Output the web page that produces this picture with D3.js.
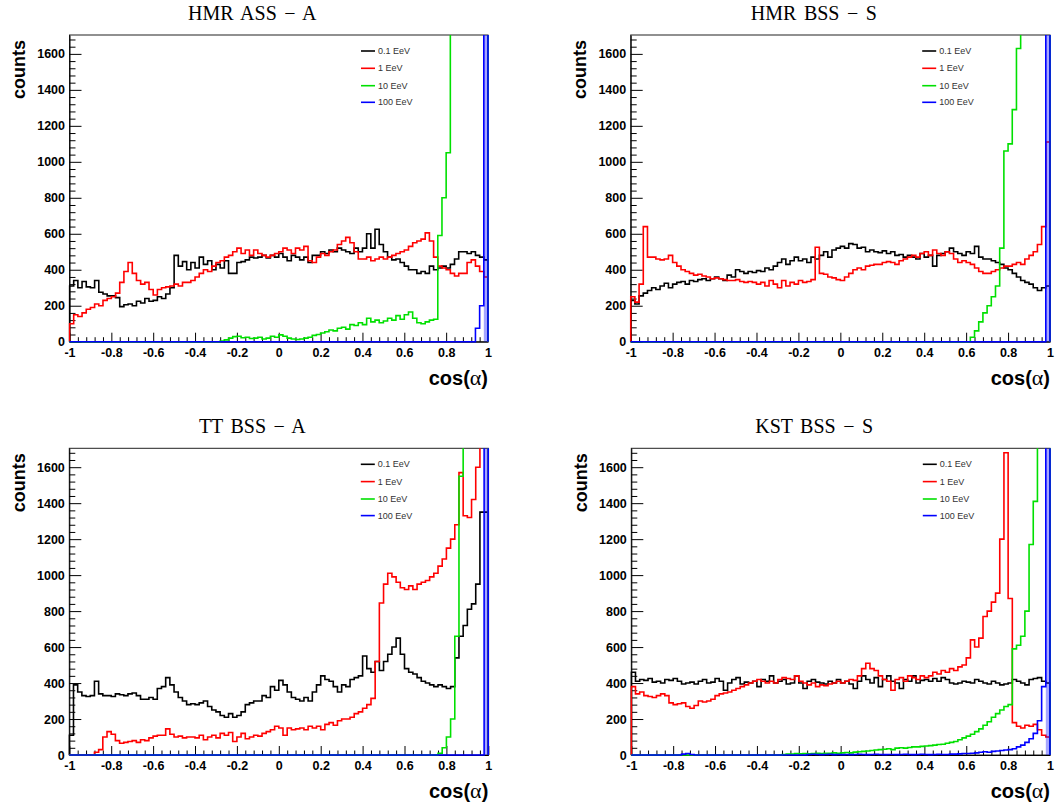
<!DOCTYPE html>
<html>
<head>
<meta charset="utf-8">
<script src="https://cdn.jsdelivr.net/npm/d3@7"></script>
<style>
  html, body { margin: 0; padding: 0; background: #fff; }
  svg { display: block; }
</style>
</head>
<body>
<svg id="chart" width="1058" height="807"></svg>
<script>
// ---------------- DATA ----------------
const panelTitles = ["HMR ASS \u2212 A", "HMR BSS \u2212 S", "TT BSS \u2212 A", "KST BSS \u2212 S"];
const seriesNames = ["0.1 EeV", "1 EeV", "10 EeV", "100 EeV"];
const xTickValues = [-1, -0.8, -0.6, -0.4, -0.2, 0, 0.2, 0.4, 0.6, 0.8, 1];
const xTickLabels = ["-1", "-0.8", "-0.6", "-0.4", "-0.2", "0", "0.2", "0.4", "0.6", "0.8", "1"];
const yTickValues = [0, 200, 400, 600, 800, 1000, 1200, 1400, 1600];
const yTickLabels = ["0", "200", "400", "600", "800", "1000", "1200", "1400", "1600"];
const xAxisTitle = "cos(\u03b1)";
const yAxisTitle = "counts";
const xMin = -1, xMax = 1, nBins = 100;
const yMax = 1705;

// counts per bin (100 bins of width 0.02 from -1 to 1); values above yMax run off the frame
const hmrAss_01 = [
  310,340,300,335,305,300,340,275,265,255,
  255,245,195,205,210,200,225,215,240,225,
  230,250,240,265,300,480,420,445,400,440,
  410,470,430,450,400,430,410,450,380,380,
  440,445,455,470,465,470,480,465,480,470,
  490,470,450,480,470,455,470,440,480,480,
  500,490,510,500,520,510,500,490,520,500,
  520,600,520,625,540,500,470,455,460,440,
  420,400,400,380,390,380,420,400,410,420,
  410,430,460,500,500,490,500,480,470,455];
const hmrAss_1 = [
  100,150,140,160,180,190,210,200,230,240,
  250,270,330,390,440,380,340,320,330,290,
  260,290,300,305,310,320,310,330,330,340,
  360,380,400,390,420,440,450,470,480,500,
  520,490,510,480,510,490,480,470,480,490,
  500,520,510,490,520,510,530,450,440,470,
  490,480,500,510,540,560,580,550,500,460,
  460,470,450,460,470,460,470,480,490,500,
  510,530,550,560,570,605,560,470,420,410,
  400,380,365,380,380,440,455,420,390,360];
const hmrAss_10 = [
  0,0,0,0,0,0,0,0,0,0,
  0,0,0,0,0,0,0,0,0,0,
  0,0,0,0,0,0,0,0,0,0,
  0,0,0,0,0,0,3,10,20,28,
  30,22,25,18,20,25,15,20,30,25,
  38,30,20,15,12,15,20,25,35,40,
  48,55,65,60,75,80,70,95,90,105,
  95,130,110,120,105,115,130,120,145,125,
  150,165,130,105,100,110,120,125,590,800,
  1050,2500,2500,2500,2500,2500,2500,2500,2500,2500];
const hmrAss_100 = [
  0,0,0,0,0,0,0,0,0,0,
  0,0,0,0,0,0,0,0,0,0,
  0,0,0,0,0,0,0,0,0,0,
  0,0,0,0,0,0,0,0,0,0,
  0,0,0,0,0,0,0,0,0,0,
  0,0,0,0,0,0,0,0,0,0,
  0,0,0,0,0,0,0,0,0,0,
  0,0,0,0,0,0,0,0,0,0,
  0,0,0,0,0,0,0,0,0,0,
  0,0,0,0,0,0,0,75,200,2500];

const hmrBss_01 = [
  230,210,255,270,285,300,290,310,325,300,
  320,330,335,320,340,335,345,350,340,350,
  360,350,340,370,360,400,390,380,390,385,
  395,390,410,400,420,440,460,430,450,470,
  450,460,440,470,460,480,500,470,510,520,
  530,520,545,540,520,525,500,510,500,495,
  505,490,500,480,485,470,480,470,460,490,
  470,480,420,480,490,500,520,500,490,480,
  500,490,530,470,460,460,450,440,430,410,
  400,380,360,340,330,320,300,285,300,310];
const hmrBss_1 = [
  250,220,320,640,470,470,460,455,460,480,
  440,420,400,390,380,370,375,365,360,350,
  355,350,345,340,340,345,335,330,335,330,
  320,330,310,340,320,300,340,310,330,320,
  340,330,335,345,525,380,375,360,355,345,
  340,360,380,400,410,400,420,425,430,430,
  440,445,440,430,450,460,470,480,470,490,
  500,480,510,490,480,500,490,460,440,450,
  440,430,410,390,380,380,390,400,410,420,
  420,430,440,430,460,480,500,540,640,1110];
const hmrBss_10 = [
  0,0,0,0,0,0,0,0,0,0,
  0,0,0,0,0,0,0,0,0,0,
  0,0,0,0,0,0,0,0,0,0,
  0,0,0,0,0,0,0,0,0,0,
  0,0,0,0,0,0,0,0,0,0,
  0,0,0,0,0,0,0,0,0,0,
  0,0,0,0,0,0,0,0,0,0,
  0,0,0,0,0,0,0,0,0,0,
  0,25,60,110,160,200,250,310,520,1060,
  1100,1290,1630,2500,2500,2500,2500,2500,2500,2500];
const hmrBss_100 = [
  0,0,0,0,0,0,0,0,0,0,
  0,0,0,0,0,0,0,0,0,0,
  0,0,0,0,0,0,0,0,0,0,
  0,0,0,0,0,0,0,0,0,0,
  0,0,0,0,0,0,0,0,0,0,
  0,0,0,0,0,0,0,0,0,0,
  0,0,0,0,0,0,0,0,0,0,
  0,0,0,0,0,0,0,0,0,0,
  0,0,0,0,0,0,0,0,0,0,
  0,0,0,0,0,0,0,0,0,2500];

const ttBss_01 = [
  110,390,350,330,325,330,410,340,330,330,
  325,340,335,330,340,345,330,310,310,320,
  310,370,380,430,390,350,320,300,280,285,
  280,290,300,270,250,240,220,210,230,210,
  220,240,280,290,300,300,330,320,380,360,
  415,390,350,320,310,300,320,300,350,390,
  440,420,410,380,350,390,380,420,430,440,
  550,480,460,520,470,520,560,600,650,560,
  480,460,450,430,410,400,390,380,390,380,
  370,380,540,660,720,810,840,950,1350,1350];
const ttBss_1 = [
  0,0,0,0,0,0,15,30,100,130,
  115,80,65,70,75,80,70,85,80,95,
  105,110,110,145,115,100,105,95,100,100,
  95,110,85,100,110,95,120,110,125,75,
  100,120,90,100,110,105,120,130,140,160,
  150,110,150,140,145,150,140,160,150,160,
  140,170,180,165,190,200,200,210,230,240,
  260,280,315,520,845,950,1010,990,960,930,
  920,940,920,950,960,970,990,1010,1050,1090,
  1150,1200,1280,1570,1330,1320,1420,1600,2500,2500];
const ttBss_10 = [
  0,0,0,0,0,0,0,0,0,0,
  0,0,0,0,0,0,0,0,0,0,
  0,0,0,0,0,0,0,0,0,0,
  0,0,0,0,0,0,0,0,0,0,
  0,0,0,0,0,0,0,0,0,0,
  0,0,0,0,0,0,0,0,0,0,
  0,0,0,0,0,0,0,0,0,0,
  0,0,0,0,0,0,0,0,0,0,
  0,0,0,0,0,0,0,0,10,40,
  100,200,660,1550,2500,2500,2500,2500,2500,2500];
const ttBss_100 = [
  0,0,0,0,0,0,0,0,0,0,
  0,0,0,0,0,0,0,0,0,0,
  0,0,0,0,0,0,0,0,0,0,
  0,0,0,0,0,0,0,0,0,0,
  0,0,0,0,0,0,0,0,0,0,
  0,0,0,0,0,0,0,0,0,0,
  0,0,0,0,0,0,0,0,0,0,
  0,0,0,0,0,0,0,0,0,0,
  0,0,0,0,0,0,0,0,0,0,
  0,0,0,0,0,0,0,0,0,2500];

const kstBss_01 = [
  460,410,420,415,425,405,410,400,420,415,
  425,410,395,400,405,395,410,420,400,405,
  425,410,360,400,420,430,395,405,400,410,
  380,420,410,440,400,410,420,395,400,440,
  400,370,410,420,405,400,395,410,400,420,
  400,410,395,370,410,440,420,400,430,380,
  420,440,410,400,370,420,410,440,400,415,
  420,410,425,410,430,420,400,395,400,410,
  405,400,420,410,400,395,410,400,390,395,
  400,420,410,400,390,420,425,430,410,400];
const kstBss_1 = [
  380,340,350,330,325,320,330,340,330,290,
  280,285,290,270,260,275,300,295,300,310,
  330,340,345,350,360,370,380,390,400,410,
  420,410,400,410,400,420,430,425,420,440,
  410,400,390,400,380,390,385,395,400,410,
  400,410,420,415,440,480,510,480,470,440,
  420,410,360,420,430,410,440,430,420,440,
  430,440,460,450,470,460,480,470,490,500,
  540,640,600,650,770,800,850,900,1200,1680,
  870,180,160,150,165,160,170,140,110,100];
const kstBss_10 = [
  0,0,0,0,0,0,0,0,0,0,
  0,0,0,0,0,0,0,0,0,0,
  0,0,0,0,0,0,0,0,0,0,
  0,0,0,0,0,0,3,5,5,8,
  6,8,6,8,10,8,10,10,12,10,
  12,14,12,16,18,20,22,25,28,30,
  32,35,30,38,40,38,42,45,45,48,
  50,52,55,58,60,65,70,75,85,95,
  105,115,130,145,165,185,210,230,250,270,
  280,590,610,660,800,1170,1410,2500,2500,2500];
const kstBss_100 = [
  0,0,0,0,0,0,0,0,0,0,
  0,0,5,8,3,0,0,0,0,0,
  0,0,0,0,0,0,0,0,0,0,
  0,0,0,0,0,0,0,0,0,0,
  0,0,3,4,3,2,3,4,2,3,
  2,3,2,3,4,3,2,3,4,3,
  2,3,3,2,3,4,3,2,3,4,
  3,2,3,4,3,3,5,5,6,8,
  8,10,12,15,18,15,20,22,25,28,
  30,35,45,55,70,90,120,190,380,2500];

// ---------------- LAYOUT & STYLE ----------------
const seriesColors = ["#000000", "#ff0000", "#00e000", "#0000ff"];
const frames = [
  { left: 69.5,  right: 488,  top: 35,    bottom: 341.7 },
  { left: 630.7, right: 1050, top: 35,    bottom: 341.7 },
  { left: 69.3,  right: 488.3, top: 448.3, bottom: 755 },
  { left: 631.3, right: 1050, top: 448.3, bottom: 755 }
];
const panelSeries = [
  [hmrAss_01, hmrAss_1, hmrAss_10, hmrAss_100],
  [hmrBss_01, hmrBss_1, hmrBss_10, hmrBss_100],
  [ttBss_01, ttBss_1, ttBss_10, ttBss_100],
  [kstBss_01, kstBss_1, kstBss_10, kstBss_100]
];

const sansFont = "'Liberation Sans', Arial, Helvetica, sans-serif";
const serifFont = "'Liberation Serif', 'Times New Roman', serif";

const svg = d3.select("#chart");
const defs = svg.append("defs");
const binWidth = (xMax - xMin) / nBins;
const binLow = d3.range(nBins).map(i => xMin + i * binWidth);

panelSeries.forEach((seriesList, pi) => {
  const f = frames[pi];
  const g = svg.append("g");
  const x = d3.scaleLinear().domain([xMin, xMax]).range([f.left, f.right]);
  const y = d3.scaleLinear().domain([0, yMax]).range([f.bottom, f.top]);

  // title
  g.append("text")
    .attr("x", (f.left + f.right) / 2 - 26.5)
    .attr("y", f.top - 15)
    .attr("text-anchor", "middle")
    .attr("font-family", serifFont)
    .attr("font-size", 20)
    .attr("word-spacing", "2.5px")
    .attr("fill", "#000")
    .text(panelTitles[pi]);

  // frame
  g.append("rect")
    .attr("x", f.left).attr("y", f.top)
    .attr("width", f.right - f.left).attr("height", f.bottom - f.top)
    .attr("fill", "none").attr("stroke", "#222").attr("stroke-width", 1);

  // y axis (major)
  const yAxis = d3.axisLeft(y)
    .tickValues(yTickValues)
    .tickFormat((d, i) => yTickLabels[i])
    .tickSizeInner(-12).tickSizeOuter(0).tickPadding(4.5);
  const gy = g.append("g").attr("transform", `translate(${f.left},0)`).call(yAxis);
  gy.selectAll("text")
    .attr("font-family", sansFont).attr("font-size", 12.5).attr("font-weight", "bold").attr("fill", "#000");
  gy.selectAll("line, path").attr("stroke", "#000");

  // y minor ticks
  const yMinor = d3.range(0, yMax, 40).filter(v => v % 200 !== 0);
  const gym = g.append("g").attr("transform", `translate(${f.left},0)`)
    .call(d3.axisLeft(y).tickValues(yMinor).tickFormat("").tickSizeInner(-6).tickSizeOuter(0));
  gym.select(".domain").remove();
  gym.selectAll("line").attr("stroke", "#000");

  // x axis (major)
  const xAxis = d3.axisBottom(x)
    .tickValues(xTickValues)
    .tickFormat((d, i) => xTickLabels[i])
    .tickSizeInner(-9).tickSizeOuter(0).tickPadding(6);
  const gx = g.append("g").attr("transform", `translate(0,${f.bottom})`).call(xAxis);
  gx.selectAll("text")
    .attr("font-family", sansFont).attr("font-size", 12.5).attr("font-weight", "bold").attr("fill", "#000");
  gx.selectAll("line, path").attr("stroke", "#000");

  // x minor ticks
  const xMinor = d3.range(0, 51).map(i => xMin + i * 0.04).filter((v, i) => i % 5 !== 0);
  const gxm = g.append("g").attr("transform", `translate(0,${f.bottom})`)
    .call(d3.axisBottom(x).tickValues(xMinor).tickFormat("").tickSizeInner(-4.5).tickSizeOuter(0));
  gxm.select(".domain").remove();
  gxm.selectAll("line").attr("stroke", "#000");

  // axis titles
  g.append("text")
    .attr("transform", `translate(${f.left - 44.5},${f.top + 5}) rotate(-90)`)
    .attr("text-anchor", "end")
    .attr("font-family", sansFont).attr("font-size", 18).attr("font-weight", "bold")
    .attr("fill", "#000")
    .text(yAxisTitle);

  const xt = g.append("text")
    .attr("x", f.right).attr("y", f.bottom + 43)
    .attr("text-anchor", "end")
    .attr("font-family", sansFont).attr("font-size", 20).attr("font-weight", "bold")
    .attr("fill", "#000");
  xt.append("tspan").text("cos(");
  xt.append("tspan").attr("font-family", serifFont).attr("font-weight", "normal").attr("font-size", 22).text("\u03b1");
  xt.append("tspan").text(")");

  // clip
  const clipId = "clip" + pi;
  defs.append("clipPath").attr("id", clipId)
    .append("rect")
    .attr("x", f.left - 1).attr("y", f.top)
    .attr("width", f.right - f.left + 2).attr("height", f.bottom - f.top + 1.5);

  const hg = g.append("g").attr("clip-path", `url(#${clipId})`);

  seriesList.forEach((vals, si) => {
    // tint isolated off-scale bins (the two close verticals blur into a band)
    vals.forEach((v, i) => {
      const prev = i > 0 ? vals[i - 1] : 0;
      const next = i < vals.length - 1 ? vals[i + 1] : 0;
      if (v > yMax && prev <= yMax && next <= yMax) {
        hg.append("rect")
          .attr("x", x(binLow[i])).attr("y", f.top)
          .attr("width", x(binLow[i] + binWidth) - x(binLow[i]))
          .attr("height", f.bottom - f.top)
          .attr("fill", seriesColors[si]).attr("fill-opacity", 0.35);
      }
    });
    const pts = [[x(xMin), y(0)]];
    vals.forEach((v, i) => {
      pts.push([x(binLow[i]), y(v)]);
      pts.push([x(binLow[i] + binWidth), y(v)]);
    });
    pts.push([x(xMax), y(0)]);
    hg.append("path")
      .attr("d", d3.line()(pts))
      .attr("fill", "none")
      .attr("stroke", seriesColors[si])
      .attr("stroke-width", 1.6)
      .attr("stroke-linejoin", "miter");
  });

  // legend
  const legRows = [16, 33.3, 50.7, 67.3];
  seriesNames.forEach((name, si) => {
    const ly = f.top + legRows[si];
    g.append("line")
      .attr("x1", f.left + 291.5).attr("x2", f.left + 305.5)
      .attr("y1", ly).attr("y2", ly)
      .attr("stroke", seriesColors[si]).attr("stroke-width", 1.6);
    g.append("text")
      .attr("x", f.left + 308.5).attr("y", ly)
      .attr("dy", "0.35em")
      .attr("font-family", sansFont).attr("font-size", 9)
      .attr("fill", "#333")
      .text(name);
  });
});
</script>
</body>
</html>
